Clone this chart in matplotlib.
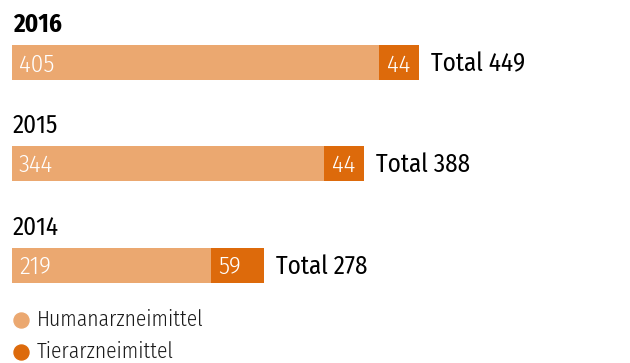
import matplotlib
matplotlib.use("Agg")
import matplotlib.pyplot as plt
from matplotlib import font_manager
from matplotlib.lines import Line2D
from matplotlib.transforms import ScaledTranslation

# Data
years = ["2016", "2015", "2014"]
human = [405, 344, 219]
animal = [44, 44, 59]
series_names = ["Humanarzneimittel", "Tierarzneimittel"]

LIGHT = "#EBA870"
DARK = "#DD6A0B"

# Prefer a condensed humanist sans
available = {f.name for f in font_manager.fontManager.ttflist}
family = "DejaVu Sans"
for cand in ["Fira Sans Condensed", "Roboto Condensed", "PT Sans Narrow", "Open Sans"]:
    if cand in available:
        family = cand
        break
plt.rcParams["font.family"] = [family, "DejaVu Sans"]

W, H = 630, 363
fig = plt.figure(figsize=(W / 100, H / 100), dpi=100)
ax = fig.add_axes([0, 0, 1, 1])

# x axis in data units: 0 sits at 12 px, 449 at 419 px
x0_px, px_per_unit = 12, 407 / 449
ax.set_xlim(-x0_px / px_per_unit, (W - x0_px) / px_per_unit)
ax.set_ylim(H, 0)  # rows laid out top to bottom in pixels
ax.axis("off")

bar_centers = [62.5, 163.5, 265.5]
bar_h = 35
fs = 18


def shifted(px):
    return ax.transData + ScaledTranslation(px / 100, 0, fig.dpi_scale_trans)


for i, (yr, h, a) in enumerate(zip(years, human, animal)):
    yc = bar_centers[i]
    total = h + a
    ax.barh(yc, h, height=bar_h, color=LIGHT, left=0, linewidth=0)
    ax.barh(yc, a, height=bar_h, color=DARK, left=h, linewidth=0)
    base = yc + 9
    ax.text(0, base, str(h), color="white", fontsize=fs, fontweight=350,
            va="baseline", ha="left", transform=shifted(7))
    ax.text(h, base, str(a), color="white", fontsize=fs, fontweight=350,
            va="baseline", ha="left", transform=shifted(8))
    ax.text(total, base, f"Total {total}", color="black", fontsize=fs, fontweight=400,
            va="baseline", ha="left", transform=shifted(12))
    # year heading above each bar
    ax.text(13 / W, 1 - (yc - bar_h / 2 - 13) / H, yr, transform=fig.transFigure,
            fontsize=fs, va="baseline", ha="left", color="black",
            fontweight="bold" if i == 0 else 400)

# Legend
for j, (name, col) in enumerate(zip(series_names, [LIGHT, DARK])):
    cy = 320 + 32 * j
    fig.lines.append(Line2D([21 / W], [1 - cy / H], transform=fig.transFigure,
                            marker="o", markersize=10.8, color=col, linestyle="none"))
    fig.text(37 / W, 1 - (cy + 6.5) / H, name, fontsize=15.5, fontweight=350,
             va="baseline", ha="left", color="#1a1a1a")

fig.savefig("out.png", dpi=100)
